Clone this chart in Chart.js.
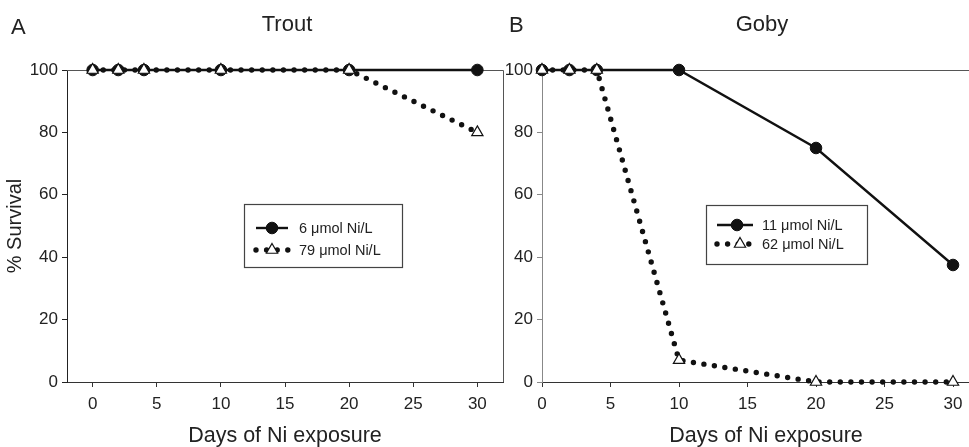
<!DOCTYPE html>
<html><head><meta charset="utf-8">
<script src="https://cdn.jsdelivr.net/npm/chart.js@4/dist/chart.umd.min.js"></script>
<style>
body{margin:0;background:#fff;width:969px;height:447px;overflow:hidden;position:relative;font-family:"Liberation Sans",Arial,sans-serif;color:#222}
.lbl{position:absolute;line-height:1;white-space:nowrap}
.ctr{transform:translateX(-50%)}
#wa{position:absolute;left:0;top:0;width:510px;height:447px}
#wb{position:absolute;left:490px;top:0;width:500px;height:447px}
</style></head><body>
<div id="wa"><canvas id="ca" width="510" height="447"></canvas></div>
<div id="wb"><canvas id="cb" width="500" height="447"></canvas></div>
<div class="lbl" style="left:11px;top:16px;font-size:22px">A</div>
<div class="lbl ctr" style="left:287px;top:13px;font-size:22px">Trout</div>
<div class="lbl" style="left:509px;top:14px;font-size:22px">B</div>
<div class="lbl ctr" style="left:762px;top:13px;font-size:22px">Goby</div>
<script>
// ---- data ----
const xTickValues = [0, 5, 10, 15, 20, 25, 30];
const troutDays = [0, 2, 4, 10, 20, 30];
const trout6 = [100, 100, 100, 100, 100, 100];
const trout79 = [100, 100, 100, 100, 100, 80];
const troutLabels = ['6 \u03bcmol Ni/L', '79 \u03bcmol Ni/L'];
const gobyDays = [0, 2, 4, 10, 20, 30];
const goby11 = [100, 100, 100, 100, 75, 37.5];
const goby62 = [100, 100, 100, 7, 0, 0];
const gobyLabels = ['11 \u03bcmol Ni/L', '62 \u03bcmol Ni/L'];
const yTitle = '% Survival';
const xTitle = 'Days of Ni exposure';

const FONT = '"Liberation Sans", Arial, sans-serif';
const DOT_GAP = 10.6;
const DOT_W = 5.4;

const framePlugin = {
  id: 'frame',
  beforeDatasetsDraw(chart, args, o) {
    const {ctx, chartArea: a} = chart;
    ctx.save();
    ctx.strokeStyle = o.color; ctx.lineWidth = 1;
    ctx.beginPath();
    ctx.moveTo(a.left, a.top + 0.5);
    ctx.lineTo(a.right + 0.5, a.top + 0.5);
    if (o.right) ctx.lineTo(a.right + 0.5, a.bottom);
    ctx.stroke();
    ctx.restore();
  }
};

const boxLegend = {
  id: 'boxLegend',
  afterDraw(chart, args, o) {
    const ctx = chart.ctx;
    const ds = chart.data.datasets;
    const s = ds[1], d = ds[0];
    ctx.save();
    ctx.fillStyle = '#fff';
    ctx.fillRect(o.x, o.y, o.w, o.h);
    ctx.strokeStyle = '#444'; ctx.lineWidth = 1.2;
    ctx.strokeRect(o.x + 0.5, o.y + 0.5, o.w, o.h);
    // row 1: solid
    ctx.beginPath(); ctx.lineWidth = s.borderWidth; ctx.strokeStyle = s.borderColor;
    ctx.moveTo(o.sx1, o.r1); ctx.lineTo(o.sx2, o.r1); ctx.stroke();
    ctx.fillStyle = s.pointBackgroundColor; ctx.strokeStyle = s.pointBorderColor;
    ctx.lineWidth = s.pointBorderWidth;
    Chart.helpers.drawPoint(ctx, {pointStyle: 'circle', radius: s.pointRadius, borderWidth: s.pointBorderWidth, rotation: 0}, o.mx, o.r1);
    // row 2: dotted
    ctx.beginPath(); ctx.lineWidth = d.borderWidth; ctx.strokeStyle = d.borderColor;
    ctx.setLineDash(d.borderDash); ctx.lineCap = 'round';
    ctx.moveTo(o.sx1, o.r2); ctx.lineTo(o.sx2, o.r2); ctx.stroke();
    ctx.setLineDash([]); ctx.lineCap = 'butt';
    ctx.fillStyle = d.pointBackgroundColor; ctx.strokeStyle = d.pointBorderColor;
    ctx.lineWidth = d.pointBorderWidth;
    Chart.helpers.drawPoint(ctx, {pointStyle: 'triangle', radius: d.pointRadius, borderWidth: d.pointBorderWidth, rotation: 0}, o.tx, o.r2);
    // text
    ctx.fillStyle = '#222'; ctx.font = '14.5px ' + FONT; ctx.textBaseline = 'middle';
    ctx.fillText(s.label, o.tx0, o.r1 + 1);
    ctx.fillText(d.label, o.tx0, o.r2 + 1);
    ctx.restore();
  }
};

function toPts(xs, ys) { return xs.map((x, i) => ({x: x, y: ys[i]})); }

function makeChart(id, days, solid, dotted, labels, cfg) {
  return new Chart(document.getElementById(id), {
    type: 'line',
    data: {
      datasets: [
        {
          label: labels[1], data: toPts(days, dotted),
          borderColor: '#111', borderWidth: DOT_W, borderDash: [0, DOT_GAP], borderCapStyle: 'round',
          pointStyle: 'triangle', pointRadius: 6.5, pointBackgroundColor: '#fff',
          pointBorderColor: '#111', pointBorderWidth: 1.2, clip: false, order: 1, tension: 0
        },
        {
          label: labels[0], data: toPts(days, solid),
          borderColor: '#111', borderWidth: 2.4,
          pointStyle: 'circle', pointRadius: 5.8, pointBackgroundColor: '#111',
          pointBorderColor: '#111', pointBorderWidth: 1, clip: false, order: 2, tension: 0
        }
      ]
    },
    options: {
      responsive: false, animation: false, events: [],
      layout: {autoPadding: false, padding: {top: 70, right: cfg.padRight, left: 0, bottom: 0}},
      plugins: {legend: {display: false}, tooltip: {enabled: false},
        frame: {color: '#555', right: cfg.frameRight},
        boxLegend: cfg.legend},
      scales: {
        x: {
          type: 'linear', min: cfg.xmin, max: cfg.xmax,
          afterBuildTicks: sc => { sc.ticks = xTickValues.map(v => ({value: v})); },
          afterFit: sc => { sc.height = 65; sc.paddingLeft = 0; sc.paddingRight = 0; },
          grid: {drawOnChartArea: false, drawTicks: true, tickLength: 5, color: '#333'},
          border: {color: '#333', width: 1},
          ticks: {font: {size: 17, family: FONT}, color: '#222', padding: 7, maxRotation: 0},
          title: {display: true, text: xTitle, font: {size: 21.5, family: FONT, lineHeight: 1}, color: '#222', padding: 0}
        },
        y: {
          min: 0, max: 100,
          afterFit: sc => { sc.width = cfg.yWidth; sc.paddingTop = 0; sc.paddingBottom = 0; },
          grid: {drawOnChartArea: false, drawTicks: true, tickLength: 5, color: cfg.yColor},
          border: {color: cfg.yColor, width: 1},
          ticks: {stepSize: 20, font: {size: 17, family: FONT}, color: '#222', padding: 4},
          title: {display: cfg.showYTitle, text: yTitle, font: {size: 20, family: FONT, lineHeight: 1}, color: '#222', padding: {top: 5, bottom: 0}}
        }
      }
    },
    plugins: [framePlugin, boxLegend]
  });
}

makeChart('ca', troutDays, trout6, trout79, troutLabels, {
  xmin: -2, xmax: 32, padRight: 7, yWidth: 67, yColor: '#222', frameRight: true, showYTitle: true,
  legend: {x: 244, y: 204, w: 158, h: 63, r1: 228, r2: 250, sx1: 256, sx2: 288, mx: 272, tx: 272, tx0: 299}
});
makeChart('cb', gobyDays, goby11, goby62, gobyLabels, {
  xmin: 0, xmax: 32.7, padRight: 0, yWidth: 52, yColor: '#888', frameRight: false, showYTitle: false,
  legend: {x: 216, y: 205, w: 161, h: 59, r1: 225, r2: 244, sx1: 227, sx2: 263, mx: 247, tx: 250, tx0: 272}
});
</script>
</body></html>
